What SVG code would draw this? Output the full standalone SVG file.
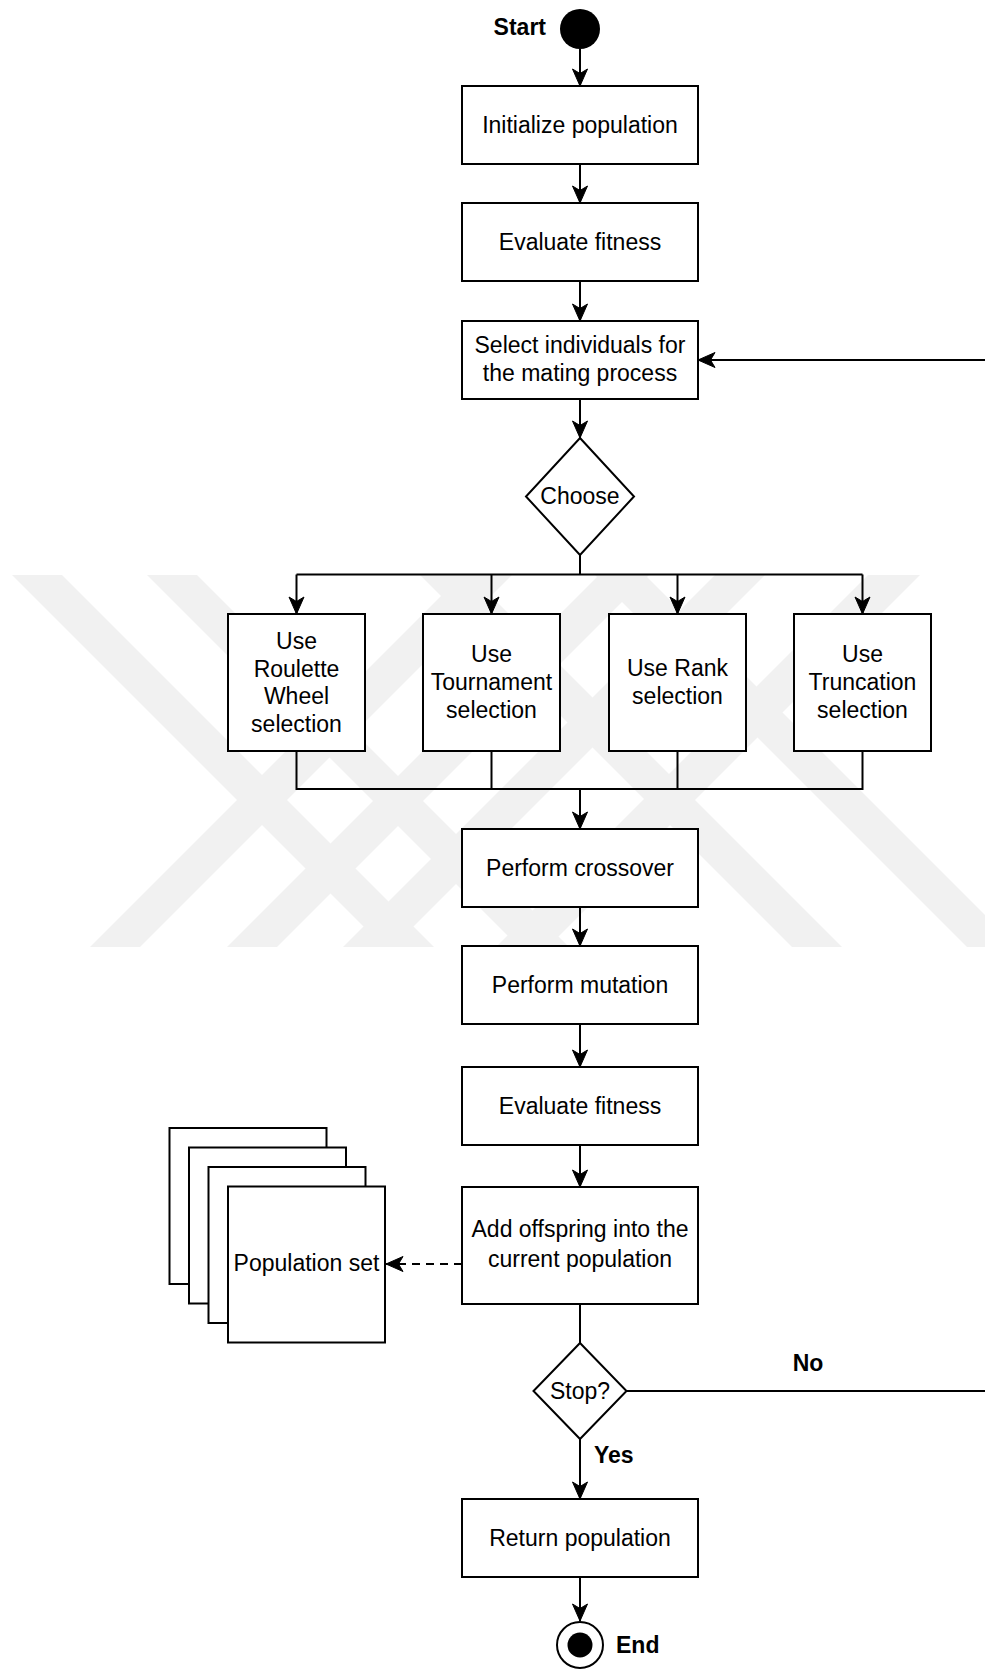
<svg xmlns="http://www.w3.org/2000/svg" width="985" height="1670" viewBox="0 0 985 1670">
  <style>
    .box { fill: #ffffff; stroke: #000000; stroke-width: 2; }
    .lbl { font-family: "Liberation Sans", Arial, sans-serif; font-size: 23px; fill: #000000; text-anchor: middle; }
    .bold { font-weight: bold; }
    .edge { fill: none; stroke: #000000; stroke-width: 2; }
    .dash { stroke-dasharray: 8 6; }
    .wm { fill: #f1f1f1; stroke: none; }
  </style>
  <defs>
    <marker id="arrow" viewBox="-18 -9 20 18" refX="0" refY="0" markerWidth="20" markerHeight="18" markerUnits="userSpaceOnUse" orient="auto">
      <path d="M0,0 L-17,-7.5 L-12.5,0 L-17,7.5 Z" fill="#000000" stroke="#000000" stroke-width="1"/>
    </marker>
  </defs>

  <rect x="0" y="0" width="985" height="1670" fill="#ffffff"/>

  <!-- faint background emblem: crossing diagonal bands -->
  <g id="watermark">
    <polygon class="wm" points="12,575 62,575 434,947 384,947"/>
    <polygon class="wm" points="147,575 197,575 569,947 519,947"/>
    <polygon class="wm" points="420,575 470,575 842,947 792,947"/>
    <polygon class="wm" points="595,575 645,575 1017,947 967,947"/>
    <polygon class="wm" points="462,575 512,575 140,947 90,947"/>
    <polygon class="wm" points="599,575 649,575 277,947 227,947"/>
    <polygon class="wm" points="715,575 765,575 393,947 343,947"/>
    <polygon class="wm" points="868,575 920,575 548,947 496,947"/>
  </g>

  <!-- connectors -->
  <g id="connectors">
    <line class="edge" x1="580" y1="49" x2="580" y2="86" marker-end="url(#arrow)"/>
    <line class="edge" x1="580" y1="164" x2="580" y2="203" marker-end="url(#arrow)"/>
    <line class="edge" x1="580" y1="281" x2="580" y2="321" marker-end="url(#arrow)"/>
    <line class="edge" x1="580" y1="399" x2="580" y2="438" marker-end="url(#arrow)"/>
    <!-- fan out to the four selection methods -->
    <polyline class="edge" points="580,555 580,574.5"/>
    <polyline class="edge" points="296.5,574.5 862.5,574.5"/>
    <line class="edge" x1="296.5" y1="574.5" x2="296.5" y2="614" marker-end="url(#arrow)"/>
    <line class="edge" x1="491.5" y1="574.5" x2="491.5" y2="614" marker-end="url(#arrow)"/>
    <line class="edge" x1="677.5" y1="574.5" x2="677.5" y2="614" marker-end="url(#arrow)"/>
    <line class="edge" x1="862.5" y1="574.5" x2="862.5" y2="614" marker-end="url(#arrow)"/>
    <!-- merge back -->
    <polyline class="edge" points="296.5,751 296.5,789 862.5,789 862.5,751"/>
    <line class="edge" x1="491.5" y1="751" x2="491.5" y2="789"/>
    <line class="edge" x1="677.5" y1="751" x2="677.5" y2="789"/>
    <line class="edge" x1="580" y1="789" x2="580" y2="829" marker-end="url(#arrow)"/>
    <line class="edge" x1="580" y1="907" x2="580" y2="946" marker-end="url(#arrow)"/>
    <line class="edge" x1="580" y1="1024" x2="580" y2="1067" marker-end="url(#arrow)"/>
    <line class="edge" x1="580" y1="1145" x2="580" y2="1187" marker-end="url(#arrow)"/>
    <line class="edge dash" x1="462" y1="1264" x2="386" y2="1264" marker-end="url(#arrow)"/>
    <line class="edge" x1="580" y1="1304" x2="580" y2="1343"/>
    <!-- loop back when not finished -->
    <line class="edge" x1="626" y1="1391" x2="985" y2="1391"/>
    <line class="edge" x1="985" y1="360" x2="698" y2="360" marker-end="url(#arrow)"/>
    <text class="lbl bold" x="808" y="1371">No</text>
    <line class="edge" x1="580" y1="1439" x2="580" y2="1499" marker-end="url(#arrow)"/>
    <text class="lbl bold" x="594" y="1463" style="text-anchor:start">Yes</text>
    <line class="edge" x1="580" y1="1577" x2="580" y2="1621" marker-end="url(#arrow)"/>
  </g>

  <g id="start">
    <circle cx="580" cy="29" r="20" fill="#000000"/>
    <text class="lbl bold" x="546" y="35" style="text-anchor:end">Start</text>
  </g>

  <g id="init">
    <rect class="box" x="462" y="86" width="236" height="78"/>
    <text class="lbl" x="580" y="133">Initialize population</text>
  </g>

  <g id="eval1">
    <rect class="box" x="462" y="203" width="236" height="78"/>
    <text class="lbl" x="580" y="250">Evaluate fitness</text>
  </g>

  <g id="select">
    <rect class="box" x="462" y="321" width="236" height="78"/>
    <text class="lbl" x="580" y="353">Select individuals for</text>
    <text class="lbl" x="580" y="381">the mating process</text>
  </g>

  <g id="choose">
    <polygon class="box" points="580,438 634,496.5 580,555 526,496.5"/>
    <text class="lbl" x="580" y="504">Choose</text>
  </g>

  <g id="roulette">
    <rect class="box" x="228" y="614" width="137" height="137"/>
    <text class="lbl" x="296.5" y="648.5">Use</text>
    <text class="lbl" x="296.5" y="676.5">Roulette</text>
    <text class="lbl" x="296.5" y="704">Wheel</text>
    <text class="lbl" x="296.5" y="732">selection</text>
  </g>

  <g id="tournament">
    <rect class="box" x="423" y="614" width="137" height="137"/>
    <text class="lbl" x="491.5" y="662">Use</text>
    <text class="lbl" x="491.5" y="690">Tournament</text>
    <text class="lbl" x="491.5" y="718">selection</text>
  </g>

  <g id="rank">
    <rect class="box" x="609" y="614" width="137" height="137"/>
    <text class="lbl" x="677.5" y="676">Use Rank</text>
    <text class="lbl" x="677.5" y="704">selection</text>
  </g>

  <g id="truncation">
    <rect class="box" x="794" y="614" width="137" height="137"/>
    <text class="lbl" x="862.5" y="662">Use</text>
    <text class="lbl" x="862.5" y="690">Truncation</text>
    <text class="lbl" x="862.5" y="718">selection</text>
  </g>

  <g id="crossover">
    <rect class="box" x="462" y="829" width="236" height="78"/>
    <text class="lbl" x="580" y="876">Perform crossover</text>
  </g>

  <g id="mutation">
    <rect class="box" x="462" y="946" width="236" height="78"/>
    <text class="lbl" x="580" y="993">Perform mutation</text>
  </g>

  <g id="eval2">
    <rect class="box" x="462" y="1067" width="236" height="78"/>
    <text class="lbl" x="580" y="1114">Evaluate fitness</text>
  </g>

  <g id="add-offspring">
    <rect class="box" x="462" y="1187" width="236" height="117"/>
    <text class="lbl" x="580" y="1237">Add offspring into the</text>
    <text class="lbl" x="580" y="1267">current population</text>
  </g>

  <g id="population-set">
    <rect class="box" x="169.5" y="1128" width="157" height="156"/>
    <rect class="box" x="189" y="1147.5" width="157" height="156"/>
    <rect class="box" x="208.5" y="1167" width="157" height="156"/>
    <rect class="box" x="228" y="1186.5" width="157" height="156"/>
    <text class="lbl" x="306.5" y="1271">Population set</text>
  </g>

  <g id="stop">
    <polygon class="box" points="580,1343 626.5,1391 580,1439 533.5,1391"/>
    <text class="lbl" x="580" y="1399">Stop?</text>
  </g>

  <g id="return">
    <rect class="box" x="462" y="1499" width="236" height="78"/>
    <text class="lbl" x="580" y="1546">Return population</text>
  </g>

  <g id="end">
    <circle cx="580" cy="1645" r="23" fill="#ffffff" stroke="#000000" stroke-width="2"/>
    <circle cx="580" cy="1645" r="12.5" fill="#000000"/>
    <text class="lbl bold" x="616" y="1653" style="text-anchor:start">End</text>
  </g>
</svg>
